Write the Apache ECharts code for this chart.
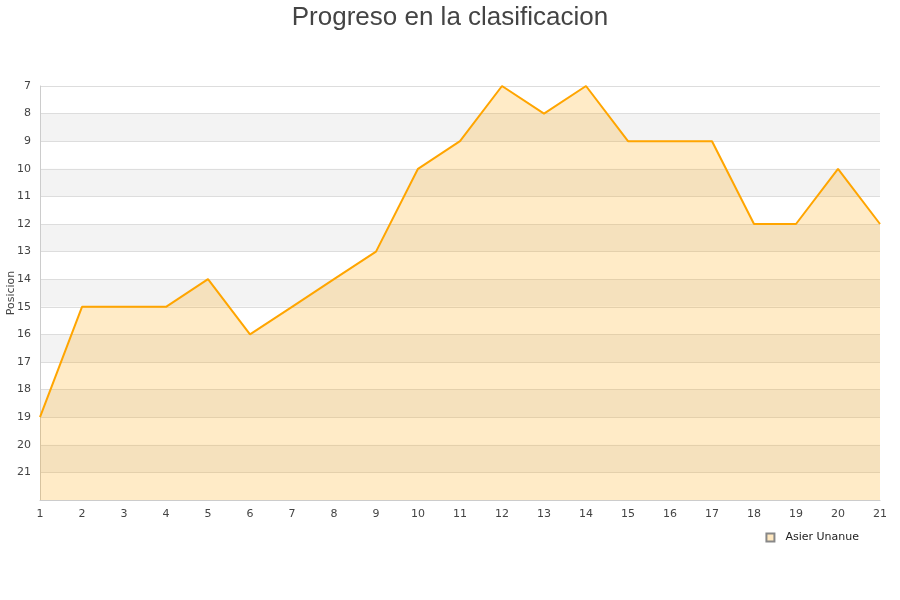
<!DOCTYPE html>
<html>
<head>
<meta charset="utf-8">
<script src="https://cdn.jsdelivr.net/npm/echarts@6/dist/echarts.min.js"></script>
<style>
  html, body { margin: 0; padding: 0; background: #fff; }
  #main { width: 900px; height: 600px; }
</style>
</head>
<body>
<div id="main"></div>
<script>
// jornadas y posiciones
var jornadas = ['1','2','3','4','5','6','7','8','9','10','11','12','13','14','15','16','17','18','19','20','21'];
var posiciones = [19,15,15,15,14,16,15,14,13,10,9,7,8,7,9,9,9,12,12,10,12];
var jugador = 'Asier Unanue';

var myChart = echarts.init(document.getElementById('main'));
myChart.setOption({
    animation: false,
    title: {
        text: 'Progreso en la clasificacion',
        left: 'center',
        top: 0,
        textStyle: { fontFamily: 'Liberation Sans', fontSize: 26, fontWeight: 'normal', color: '#444' }
    },
    grid: { left: 40, right: 20, top: 86, bottom: 100, containLabel: false, outerBoundsMode: 'none' },
    legend: {
        data: [jugador],
        right: 36,
        top: 527,
        itemWidth: 8,
        itemHeight: 8,
        itemGap: 10,
        icon: 'rect',
        textStyle: { fontFamily: 'DejaVu Sans', fontSize: 11, color: '#222', padding: [0, 0, 0, 6] }
    },
    xAxis: {
        type: 'category',
        data: jornadas,
        boundaryGap: false,
        axisLine: { lineStyle: { color: '#ccc' } },
        axisTick: { show: false },
        axisLabel: { fontFamily: 'DejaVu Sans', fontSize: 11, color: '#444', margin: 9 },
        splitLine: { show: false }
    },
    yAxis: {
        type: 'value',
        inverse: true,
        min: 7,
        max: 22,
        interval: 1,
        name: 'Posicion',
        nameLocation: 'middle',
        nameGap: 23,
        nameMoveOverlap: false,
        nameTextStyle: { fontFamily: 'DejaVu Sans', fontSize: 11, color: '#444' },
        axisLine: { show: true, lineStyle: { color: '#ccc' } },
        axisTick: { show: false },
        axisLabel: {
            fontFamily: 'DejaVu Sans', fontSize: 11, color: '#444', margin: 9,
            formatter: function (v) { return v === 22 ? '' : v; }
        },
        splitLine: { lineStyle: { color: '#ddd' } },
        splitArea: { show: true, areaStyle: { color: ['#ffffff', '#f3f3f3'] } }
    },
    series: [{
        name: jugador,
        type: 'line',
        data: posiciones,
        symbol: 'none',
        lineStyle: { color: '#ffa500', width: 2 },
        itemStyle: { color: '#ffe8c0', borderColor: '#888', borderWidth: 1 },
        areaStyle: { color: '#ffa500', opacity: 0.22, origin: 'end' }
    }]
});
</script>
</body>
</html>
